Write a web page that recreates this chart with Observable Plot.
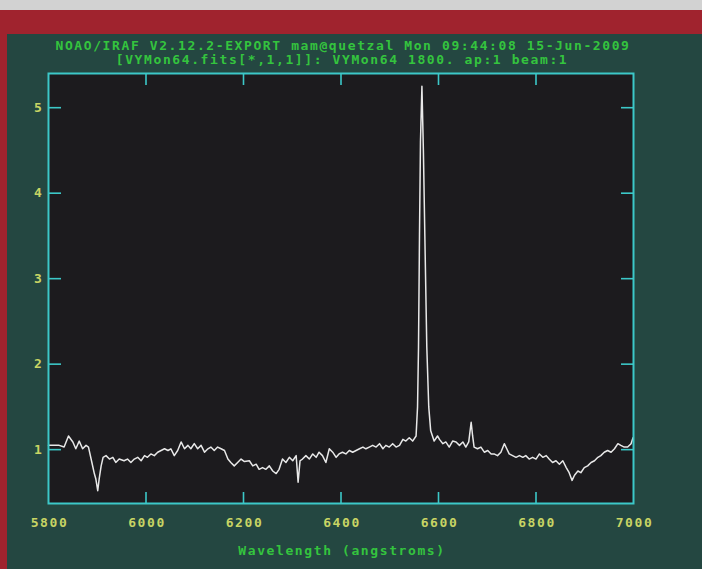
<!DOCTYPE html>
<html>
<head>
<meta charset="utf-8">
<script src="https://cdn.jsdelivr.net/npm/d3@7"></script>
<script src="https://cdn.jsdelivr.net/npm/@observablehq/plot@0.6"></script>
<style>
  html, body { margin: 0; padding: 0; background: #244741; }
  #wrap { position: relative; width: 702px; height: 569px; overflow: hidden; background: #244741; }
  #gray { position: absolute; left: 0; top: 0; width: 702px; height: 10px; background: #d2d2d2; }
  #redtop { position: absolute; left: 0; top: 10px; width: 702px; height: 24px; background: #a0232e; }
  #redleft { position: absolute; left: 0; top: 10px; width: 7px; height: 559px; background: #a0232e; }
  #chart { position: absolute; left: 0; top: 0; }
  #chart svg text { letter-spacing: 1.6px; font-weight: bold; }
</style>
</head>
<body>
<div id="wrap">
  <div id="gray"></div>
  <div id="redtop"></div>
  <div id="redleft"></div>
  <div id="chart"></div>
</div>
<script>
const titleLine1 = "NOAO/IRAF V2.12.2-EXPORT mam@quetzal Mon 09:44:08 15-Jun-2009";
const titleLine2 = "[VYMon64.fits[*,1,1]]: VYMon64 1800. ap:1 beam:1";
const xLabel = "Wavelength (angstroms)";
const xTicks = [5800, 6000, 6200, 6400, 6600, 6800, 7000];
const yTicks = [1, 2, 3, 4, 5];
const xDomain = [5800, 7000];
const yDomain = [0.37, 5.4];

const wavelength = [
  5800, 5809, 5822, 5832, 5841, 5850, 5856, 5863, 5870, 5877, 5882, 5889, 5894, 5897, 5901, 5904,
  5908, 5912, 5918, 5925, 5932, 5938, 5945, 5955, 5962, 5969, 5976, 5983, 5990, 5997, 6003, 6010,
  6017, 6024, 6031, 6038, 6045, 6051, 6058, 6065, 6072, 6079, 6086, 6092, 6099, 6106, 6113, 6120,
  6127, 6133, 6140, 6147, 6154, 6161, 6168, 6174, 6181, 6188, 6195, 6202, 6212, 6219, 6226, 6232,
  6239, 6246, 6253, 6260, 6267, 6273, 6280, 6287, 6294, 6301, 6308, 6312, 6316, 6321, 6328, 6335,
  6342, 6349, 6355, 6362, 6369, 6376, 6383, 6390, 6396, 6403, 6410, 6417, 6424, 6431, 6438, 6445,
  6451, 6458, 6465, 6472, 6479, 6486, 6492, 6499, 6506, 6513, 6520, 6527, 6533, 6540, 6547, 6554,
  6557, 6559, 6561, 6563, 6566, 6569, 6572, 6576, 6580, 6584, 6591, 6598, 6602, 6609, 6615, 6622,
  6629, 6636, 6643, 6650, 6656, 6662, 6667, 6670, 6673, 6680, 6687, 6694, 6701, 6708, 6714, 6721,
  6728, 6735, 6740, 6745, 6752, 6759, 6766, 6773, 6779, 6786, 6793, 6800, 6807, 6814, 6821, 6827,
  6834, 6841, 6848, 6855, 6862, 6868, 6874, 6879, 6886, 6892, 6899, 6906, 6913, 6920, 6927, 6933,
  6940, 6947, 6954, 6961, 6968, 6974, 6981, 6988, 6995, 6999
];
const flux = [
  1.05, 1.05, 1.05, 1.03, 1.16, 1.09, 1.01, 1.10, 1.01, 1.05, 1.03, 0.85, 0.72, 0.66, 0.52, 0.66,
  0.81, 0.91, 0.93, 0.89, 0.91, 0.85, 0.89, 0.87, 0.89, 0.85, 0.89, 0.91, 0.87, 0.93, 0.91, 0.95,
  0.93, 0.97, 0.99, 1.01, 0.99, 1.01, 0.93, 0.99, 1.09, 1.01, 1.05, 1.01, 1.07, 1.01, 1.05, 0.97,
  1.01, 1.03, 0.99, 1.03, 1.01, 0.99, 0.89, 0.85, 0.81, 0.85, 0.89, 0.86, 0.87, 0.81, 0.83, 0.77,
  0.79, 0.77, 0.81, 0.75, 0.72, 0.77, 0.89, 0.85, 0.91, 0.87, 0.93, 0.62, 0.87, 0.89, 0.93, 0.89,
  0.95, 0.91, 0.97, 0.93, 0.85, 1.01, 0.97, 0.91, 0.95, 0.97, 0.95, 0.99, 0.97, 0.99, 1.01, 1.03,
  1.01, 1.03, 1.05, 1.03, 1.07, 1.01, 1.05, 1.03, 1.07, 1.03, 1.05, 1.12, 1.10, 1.14, 1.10, 1.16,
  1.50, 2.20, 3.50, 4.60, 5.25, 4.50, 3.50, 2.20, 1.50, 1.22, 1.10, 1.16, 1.12, 1.07, 1.09, 1.03,
  1.10, 1.09, 1.05, 1.09, 1.03, 1.09, 1.32, 1.16, 1.03, 1.01, 1.03, 0.97, 0.99, 0.95, 0.95, 0.93,
  0.97, 1.07, 1.01, 0.95, 0.93, 0.91, 0.93, 0.91, 0.93, 0.89, 0.91, 0.89, 0.95, 0.91, 0.93, 0.89,
  0.85, 0.87, 0.83, 0.87, 0.79, 0.73, 0.64, 0.70, 0.75, 0.73, 0.79, 0.81, 0.85, 0.87, 0.91, 0.93,
  0.97, 0.99, 0.97, 1.01, 1.07, 1.05, 1.03, 1.03, 1.07, 1.14
];

const spectrum = wavelength.map((w, i) => ({wavelength: w, flux: flux[i]}));

const W = 702, H = 569;
const mL = 48, mR = 69, mT = 73, mB = 66;
const innerW = W - mL - mR, innerH = H - mT - mB;

const cyan = "#3cc8c8";
const green = "#34c43e";
const yellow = "#c8d464";

const innerXTicks = xTicks.filter(t => t > xDomain[0] && t < xDomain[1]);

const chart = Plot.plot({
  width: W,
  height: H,
  marginLeft: mL,
  marginRight: mR,
  marginTop: mT,
  marginBottom: mB,
  style: {background: "transparent", fontFamily: "'DejaVu Sans Mono', monospace", fontSize: "13px", color: yellow},
  x: {domain: xDomain},
  y: {domain: yDomain},
  marks: [
    Plot.frame({fill: "#1c1b1e", stroke: null}),
    Plot.line(spectrum, {x: "wavelength", y: "flux", stroke: "#e8e8e8", strokeWidth: 1.5}),
    Plot.ruleX(innerXTicks, {x: d => d, insetTop: innerH - 11, stroke: cyan, strokeWidth: 1.6}),
    Plot.ruleX(innerXTicks, {x: d => d, insetBottom: innerH - 12, stroke: cyan, strokeWidth: 1.6}),
    Plot.ruleY(yTicks, {y: d => d, insetRight: innerW - 13, stroke: cyan, strokeWidth: 1.6}),
    Plot.ruleY(yTicks, {y: d => d, insetLeft: innerW - 12, stroke: cyan, strokeWidth: 1.6}),
    Plot.frame({stroke: cyan, strokeWidth: 2, fill: null}),
    Plot.axisX({ticks: xTicks, tickFormat: d => String(d), tickSize: 0, tickPadding: 14, dx: 1, fill: yellow, fontSize: 13, label: null}),
    Plot.axisY({ticks: yTicks, tickFormat: d => String(d), tickSize: 0, tickPadding: 5, fill: yellow, fontSize: 13, label: null}),
    Plot.text([titleLine1], {text: d => d, frameAnchor: "top", dy: -28, dx: 2, lineAnchor: "middle", fill: green, fontSize: 13}),
    Plot.text([titleLine2], {text: d => d, frameAnchor: "top", dy: -14, dx: 1, lineAnchor: "middle", fill: green, fontSize: 13}),
    Plot.text([xLabel], {text: d => d, frameAnchor: "bottom", dy: 47, dx: 1, lineAnchor: "middle", fill: green, fontSize: 13})
  ]
});
document.getElementById("chart").appendChild(chart);
</script>
</body>
</html>
